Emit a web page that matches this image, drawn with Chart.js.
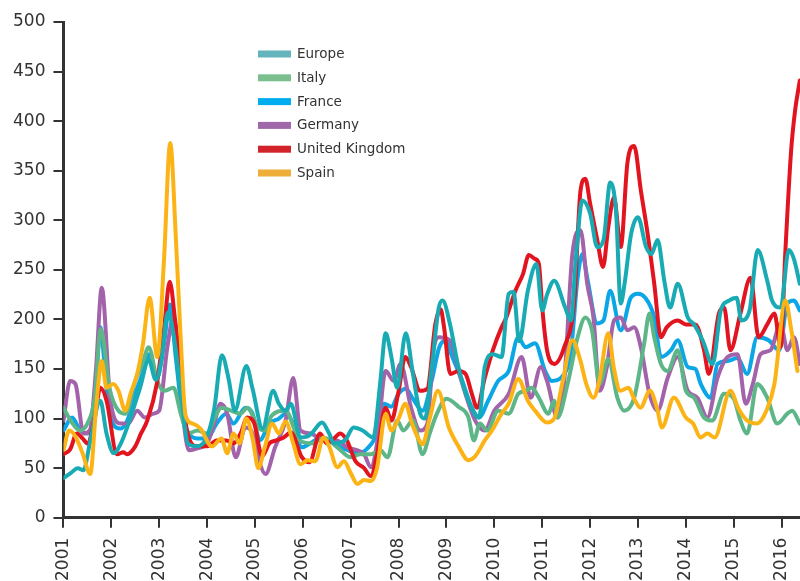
<!DOCTYPE html>
<html>
<head>
<meta charset="utf-8">
<script src="https://cdn.jsdelivr.net/npm/chart.js@4/dist/chart.umd.min.js"></script>
<style>
  html, body { margin: 0; padding: 0; background: #fff; overflow: hidden; width: 800px; height: 581px; }
  canvas { display: block; }
</style>
</head>
<body>
<canvas id="chart" width="812" height="581"></canvas>
<script>
// monthly index readings, [year, value]
const europe = [[2001.0,40],[2001.15,45],[2001.3,50],[2001.42,48],[2001.55,75],[2001.77,118],[2001.9,85],[2002.05,65],[2002.2,75],[2002.33,91],[2002.6,131],[2002.78,159],[2002.93,139],[2003.05,160],[2003.18,207],[2003.3,185],[2003.48,115],[2003.6,75],[2003.79,72],[2004.0,82],[2004.15,110],[2004.31,164],[2004.45,140],[2004.58,108],[2004.82,153],[2004.95,130],[2005.16,90],[2005.38,128],[2005.5,115],[2005.64,108],[2005.75,115],[2005.95,81],[2006.1,82],[2006.2,86],[2006.4,96],[2006.55,85],[2006.65,75],[2006.88,78],[2007.06,91],[2007.25,88],[2007.47,81],[2007.62,138],[2007.73,186],[2007.85,162],[2007.97,131],[2008.15,186],[2008.3,145],[2008.45,105],[2008.55,100],[2008.7,155],[2008.84,212],[2008.92,219],[2009.07,196],[2009.25,152],[2009.46,118],[2009.68,101],[2009.8,152],[2009.97,165],[2010.15,162],[2010.3,226],[2010.4,228],[2010.52,178],[2010.7,229],[2010.88,256],[2011.0,209],[2011.1,225],[2011.25,239],[2011.48,212],[2011.6,199],[2011.7,260],[2011.84,320],[2012.0,307],[2012.15,273],[2012.28,280],[2012.42,338],[2012.54,310],[2012.64,216],[2012.72,236],[2012.86,287],[2013.0,303],[2013.17,273],[2013.28,266],[2013.41,280],[2013.55,239],[2013.67,212],[2013.83,236],[2014.04,202],[2014.17,195],[2014.35,179],[2014.56,155],[2014.73,209],[2014.9,219],[2015.06,222],[2015.16,199],[2015.33,209],[2015.5,270],[2015.7,239],[2015.8,219],[2015.98,212],[2016.15,270],[2016.25,262],[2016.38,236]];

const italy = [[2001.0,111],[2001.15,98],[2001.35,88],[2001.5,95],[2001.65,120],[2001.78,190],[2001.96,131],[2002.15,108],[2002.3,105],[2002.5,138],[2002.65,155],[2002.78,172],[2002.96,138],[2003.1,128],[2003.3,131],[2003.45,105],[2003.6,85],[2003.8,88],[2004.0,85],[2004.15,100],[2004.3,111],[2004.5,108],[2004.7,105],[2004.84,111],[2005.07,91],[2005.2,88],[2005.35,103],[2005.64,108],[2005.93,78],[2006.2,75],[2006.43,81],[2006.72,71],[2007.0,61],[2007.2,64],[2007.42,64],[2007.62,68],[2007.77,61],[2007.97,98],[2008.1,88],[2008.3,98],[2008.5,64],[2008.65,85],[2008.8,105],[2009.0,120],[2009.25,112],[2009.46,101],[2009.57,78],[2009.7,95],[2009.85,88],[2010.08,108],[2010.3,105],[2010.5,125],[2010.65,128],[2010.78,131],[2010.92,122],[2011.13,105],[2011.25,118],[2011.32,101],[2011.53,135],[2011.74,182],[2011.9,202],[2012.04,189],[2012.2,135],[2012.38,160],[2012.57,121],[2012.71,108],[2012.92,121],[2013.13,176],[2013.24,206],[2013.34,182],[2013.48,155],[2013.62,148],[2013.83,169],[2014.0,128],[2014.17,121],[2014.38,101],[2014.55,98],[2014.8,125],[2015.0,120],[2015.14,98],[2015.28,85],[2015.49,135],[2015.7,121],[2015.91,95],[2016.12,105],[2016.22,108],[2016.38,95]];

const france = [[2001.0,88],[2001.18,101],[2001.35,88],[2001.5,85],[2001.65,110],[2001.77,192],[2001.9,130],[2002.0,98],[2002.2,90],[2002.35,100],[2002.5,125],[2002.65,145],[2002.8,165],[2002.95,140],[2003.1,175],[2003.22,215],[2003.35,160],[2003.5,100],[2003.62,85],[2003.8,80],[2004.0,80],[2004.2,95],[2004.4,105],[2004.55,95],[2004.8,111],[2004.95,105],[2005.1,78],[2005.3,95],[2005.5,100],[2005.64,105],[2005.8,95],[2005.98,71],[2006.15,75],[2006.35,80],[2006.55,78],[2006.75,72],[2006.95,68],[2007.15,65],[2007.35,70],[2007.55,85],[2007.7,115],[2007.85,112],[2008.0,125],[2008.15,130],[2008.3,120],[2008.5,108],[2008.7,140],[2008.85,172],[2009.0,179],[2009.1,165],[2009.33,138],[2009.53,111],[2009.68,101],[2009.87,118],[2010.08,138],[2010.3,148],[2010.5,182],[2010.65,172],[2010.85,176],[2011.06,148],[2011.2,138],[2011.39,141],[2011.6,169],[2011.74,242],[2011.84,266],[2011.94,242],[2012.15,196],[2012.28,199],[2012.42,229],[2012.64,189],[2012.85,222],[2013.0,226],[2013.15,222],[2013.34,202],[2013.48,162],[2013.69,169],[2013.83,179],[2014.04,152],[2014.2,150],[2014.31,135],[2014.52,121],[2014.66,155],[2014.87,158],[2015.08,161],[2015.28,145],[2015.49,182],[2015.73,179],[2015.95,169],[2016.12,216],[2016.26,219],[2016.38,209]];

const germany = [[2001.0,98],[2001.14,138],[2001.25,135],[2001.42,85],[2001.55,88],[2001.68,150],[2001.8,232],[2001.98,118],[2002.2,95],[2002.35,95],[2002.54,108],[2002.7,101],[2002.88,105],[2003.0,108],[2003.17,172],[2003.3,202],[2003.5,101],[2003.62,68],[2003.79,70],[2004.0,75],[2004.15,95],[2004.28,115],[2004.42,105],[2004.6,61],[2004.8,91],[2004.95,85],[2005.1,55],[2005.22,44],[2005.42,71],[2005.64,98],[2005.8,141],[2005.95,88],[2006.16,85],[2006.43,78],[2006.7,78],[2006.93,71],[2007.14,68],[2007.28,64],[2007.42,51],[2007.55,75],[2007.73,148],[2007.9,138],[2008.04,155],[2008.26,111],[2008.45,88],[2008.6,95],[2008.73,169],[2008.84,182],[2009.07,179],[2009.3,140],[2009.6,98],[2009.8,88],[2010.0,108],[2010.3,125],[2010.57,162],[2010.76,121],[2010.97,152],[2011.1,138],[2011.32,101],[2011.46,138],[2011.63,266],[2011.8,290],[2011.94,236],[2012.07,202],[2012.2,128],[2012.35,152],[2012.5,199],[2012.64,202],[2012.78,189],[2012.92,192],[2013.06,172],[2013.24,125],[2013.41,108],[2013.62,141],[2013.83,162],[2014.04,128],[2014.24,121],[2014.45,101],[2014.66,141],[2014.87,162],[2015.08,165],[2015.25,115],[2015.4,135],[2015.56,165],[2015.77,169],[2015.98,196],[2016.12,169],[2016.26,182],[2016.38,155]];

const unitedKingdom = [[2001.0,64],[2001.14,69],[2001.28,85],[2001.4,80],[2001.5,75],[2001.65,100],[2001.77,131],[2001.9,118],[2002.12,64],[2002.25,66],[2002.33,64],[2002.5,72],[2002.62,85],[2002.75,98],[2002.95,135],[2003.1,190],[2003.22,238],[2003.33,200],[2003.44,150],[2003.58,88],[2003.79,72],[2004.0,72],[2004.2,78],[2004.4,78],[2004.55,75],[2004.7,85],[2004.84,101],[2004.98,96],[2005.15,62],[2005.3,75],[2005.45,78],[2005.6,81],[2005.75,86],[2005.98,61],[2006.14,56],[2006.36,85],[2006.5,75],[2006.65,80],[2006.78,85],[2006.92,78],[2007.1,57],[2007.28,50],[2007.42,42],[2007.55,64],[2007.73,111],[2007.85,98],[2007.99,125],[2008.14,162],[2008.26,152],[2008.45,128],[2008.6,130],[2008.77,196],[2008.88,210],[2008.95,192],[2009.08,145],[2009.25,148],[2009.4,145],[2009.53,125],[2009.64,111],[2009.8,141],[2009.97,169],[2010.15,192],[2010.25,202],[2010.44,229],[2010.6,246],[2010.72,265],[2010.85,261],[2010.93,256],[2011.0,212],[2011.1,169],[2011.25,155],[2011.46,172],[2011.67,219],[2011.8,330],[2011.9,342],[2012.0,317],[2012.15,280],[2012.27,253],[2012.38,293],[2012.5,323],[2012.64,273],[2012.78,358],[2012.92,375],[2013.06,330],[2013.2,287],[2013.34,236],[2013.48,182],[2013.6,192],[2013.83,199],[2014.0,195],[2014.2,195],[2014.38,169],[2014.48,145],[2014.69,206],[2014.8,212],[2014.93,169],[2015.14,206],[2015.35,242],[2015.52,182],[2015.7,195],[2015.85,206],[2015.98,172],[2016.08,270],[2016.2,371],[2016.28,410],[2016.38,441]];

const spain = [[2001.0,68],[2001.12,88],[2001.25,82],[2001.4,65],[2001.56,44],[2001.68,110],[2001.8,158],[2001.9,131],[2002.04,135],[2002.15,128],[2002.29,108],[2002.4,125],[2002.54,145],[2002.66,175],[2002.8,222],[2002.96,162],[2003.1,260],[2003.23,378],[2003.35,280],[2003.45,180],[2003.55,103],[2003.7,95],[2003.86,90],[2004.1,72],[2004.3,80],[2004.42,65],[2004.55,85],[2004.68,75],[2004.82,100],[2004.95,80],[2005.07,50],[2005.2,70],[2005.36,95],[2005.5,85],[2005.64,97],[2005.8,75],[2005.95,54],[2006.1,58],[2006.26,57],[2006.43,81],[2006.55,72],[2006.72,51],[2006.86,57],[2007.0,45],[2007.14,34],[2007.28,38],[2007.42,37],[2007.55,50],[2007.73,105],[2007.85,88],[2008.0,100],[2008.14,115],[2008.28,95],[2008.4,81],[2008.5,74],[2008.65,100],[2008.82,128],[2009.05,91],[2009.25,72],[2009.46,58],[2009.6,62],[2009.8,78],[2009.95,88],[2010.15,105],[2010.3,115],[2010.5,140],[2010.7,118],[2010.85,108],[2011.1,96],[2011.25,100],[2011.43,138],[2011.63,179],[2011.8,158],[2011.92,135],[2012.07,121],[2012.2,140],[2012.38,186],[2012.5,150],[2012.63,128],[2012.8,131],[2012.92,120],[2013.05,111],[2013.25,128],[2013.4,110],[2013.5,91],[2013.75,121],[2014.0,101],[2014.15,95],[2014.31,81],[2014.45,85],[2014.6,81],[2014.93,128],[2015.1,110],[2015.28,98],[2015.48,95],[2015.7,110],[2015.85,135],[2016.08,219],[2016.2,190],[2016.33,148]];

const seriesNames = ['Europe', 'Italy', 'France', 'Germany', 'United Kingdom', 'Spain'];
const seriesData = [europe, italy, france, germany, unitedKingdom, spain];
const lineColors = ['#18abb4', '#5db688', '#0ba6e6', '#a263aa', '#e2141f', '#fcb316'];
const legendColors = ['#63b4bc', '#7bbf8e', '#00aeef', '#a067ab', '#d2232a', '#efad3a'];
const drawOrder = [2, 4, 6, 5, 3, 1]; // lower = drawn on top

const firstYear = 2001;
const lastYear = 2016.4;
const yMax = 500;
const yStep = 50;

const FONT = '"DejaVu Sans", sans-serif';
const INK = '#333333';

const legendInside = {
  id: 'legendInside',
  afterDraw(chart) {
    const ctx = chart.ctx;
    ctx.save();
    ctx.font = '13.5px ' + FONT;
    ctx.textBaseline = 'middle';
    chart.data.datasets.forEach((ds, i) => {
      const y = 54 + i * 23.8;
      ctx.fillStyle = ds.legendColor;
      ctx.fillRect(258, y - 3.5, 33, 7);
      ctx.fillStyle = INK;
      ctx.fillText(ds.label, 297, y + 0.5);
    });
    ctx.restore();
  }
};

function makeDatasets() {
  return seriesData.map((rows, i) => ({
    label: seriesNames[i],
    data: rows.map(r => ({ x: r[0], y: r[1] })),
    borderColor: lineColors[i],
    legendColor: legendColors[i],
    borderWidth: 4,
    pointRadius: 0,
    fill: false,
    cubicInterpolationMode: 'monotone',
    borderJoinStyle: 'round',
    borderCapStyle: 'round',
    order: drawOrder[i],
  }));
}

new Chart(document.getElementById('chart'), {
  type: 'line',
  data: { datasets: makeDatasets() },
  options: {
    responsive: false,
    animation: false,
    layout: { padding: { top: 22, left: 5, right: 0, bottom: -10 } },
    plugins: { legend: { display: false }, tooltip: { enabled: false } },
    scales: {
      x: {
        type: 'linear',
        min: firstYear,
        max: lastYear,
        border: { color: INK, width: 3 },
        grid: { drawOnChartArea: false, color: INK, lineWidth: 2, tickLength: 10 },
        ticks: {
          stepSize: 1,
          includeBounds: false,
          minRotation: 90,
          maxRotation: 90,
          padding: 10,
          color: INK,
          font: { family: FONT, size: 17 },
          callback: v => String(v),
        },
      },
      y: {
        min: 0,
        max: yMax,
        border: { color: INK, width: 3 },
        grid: { drawOnChartArea: false, color: INK, lineWidth: 2, tickLength: 10 },
        ticks: {
          stepSize: yStep,
          padding: 8,
          color: INK,
          font: { family: FONT, size: 17 },
        },
      },
    },
  },
  plugins: [legendInside],
});
</script>
</body>
</html>
